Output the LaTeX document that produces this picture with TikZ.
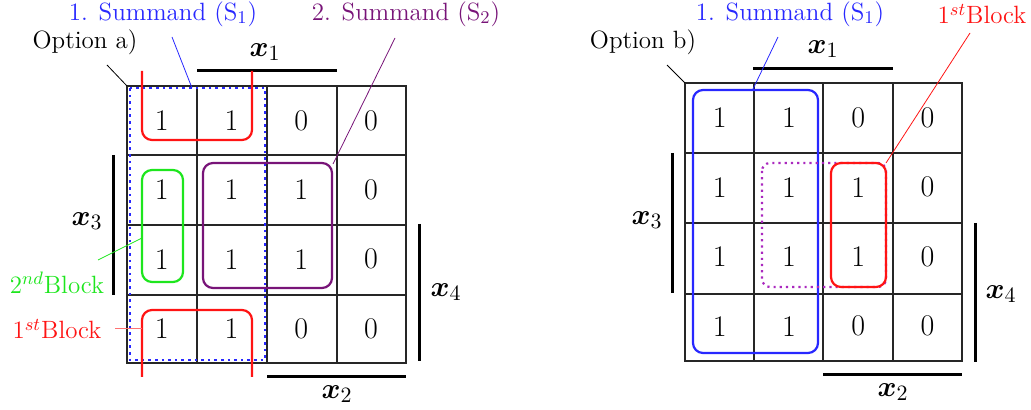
\documentclass[tikz,border=0pt]{standalone}
\usepackage{bm}
\definecolor{kblue}{RGB}{40,40,255}
\definecolor{kred}{RGB}{255,20,20}
\definecolor{kgreen}{RGB}{30,230,30}
\definecolor{kpurple}{RGB}{120,20,120}
\definecolor{kmag}{RGB}{170,40,190}
\begin{document}
\begin{tikzpicture}[x=0.5pt,y=-0.5pt,
 cell/.style={font=\fontsize{15}{18}\selectfont, inner sep=0pt},
 lbl/.style={font=\fontsize{12.5}{15}\selectfont, inner sep=1pt},
 var/.style={font=\fontsize{15}{18}\selectfont, inner sep=0pt},
 bar/.style={line width=1.5pt},
 gridline/.style={line width=0.7pt, draw=black!85},
 lead/.style={line width=0.4pt},
 grp/.style={line width=1.1pt, rounded corners=5pt}]
\useasboundingbox (0,0) rectangle (1031,410);

% ---------------- Option a) ----------------
\draw[gridline] (127,86) rectangle (406,363);
\foreach \x in {197,267,337} \draw[gridline] (\x,86) -- (\x,363);
\foreach \y in {155,225,295} \draw[gridline] (127,\y) -- (406,\y);
\foreach \c/\r/\v in {1/1/1,2/1/1,3/1/0,4/1/0,
                      1/2/1,2/2/1,3/2/1,4/2/0,
                      1/3/1,2/3/1,3/3/1,4/3/0,
                      1/4/1,2/4/1,3/4/0,4/4/0}
  \node[cell] (a\r\c) at ({127+69.75*(\c-0.5)},{86+69.25*(\r-0.5)}) {\v};

\draw[bar] (197,71) -- (337,71);
\node[var] (ax1) at (265,52) {$\bm{x}_1$};
\draw[bar] (113,155) -- (113,295);
\node[var] (ax3) at (87,221) {$\bm{x}_3$};
\draw[bar] (267,377) -- (406,377);
\node[var] (ax2) at (337,394) {$\bm{x}_2$};
\draw[bar] (419,224) -- (419,361);
\node[var] (ax4) at (446,292) {$\bm{x}_4$};

% groups
\draw[kblue, line width=1.3pt, dotted] (130,88) rectangle (265,360);
\draw[kred, grp] (142,71) -- (142,140) -- (252,140) -- (252,71);
\draw[kred, grp] (142,377) -- (142,310) -- (252,310) -- (252,377);
\draw[kgreen, grp] (142,170) rectangle (183,282);
\draw[kpurple, grp] (203,163) rectangle (332,288);

% labels
\node[lbl, text=kblue] (aS1) at (163,14) {1. Summand (S$_1$)};
\node[lbl, text=kpurple] (aS2) at (406,14) {2. Summand (S$_2$)};
\node[lbl] (aopt) at (85,42) {Option a)};
\node[lbl, text=kgreen] (a2nd) at (57,283) {2$^{nd}$Block};
\node[lbl, text=kred] (a1st) at (57,329) {1$^{st}$Block};

\coordinate (aS1s) at (172,37);  \coordinate (aS1e) at (192,88);
\coordinate (aS2s) at (395,38);  \coordinate (aS2e) at (333,164);
\coordinate (aopts) at (107,65); \coordinate (aopte) at (127,86);
\coordinate (a2nds) at (98,260); \coordinate (a2nde) at (142,238);
\coordinate (a1sts) at (115,328); \coordinate (a1ste) at (142,328);
\draw[lead, kblue] (aS1s) -- (aS1e);
\draw[lead, kpurple] (aS2s) -- (aS2e);
\draw[lead, black] (aopts) -- (aopte);
\draw[lead, kgreen] (a2nds) -- (a2nde);
\draw[lead, kred!60] (a1sts) -- (a1ste);

% ---------------- Option b) ----------------
\draw[gridline] (685,83) rectangle (962,361);
\foreach \x in {754,823,893} \draw[gridline] (\x,83) -- (\x,361);
\foreach \y in {153,223,294} \draw[gridline] (685,\y) -- (962,\y);
\foreach \c/\r/\v in {1/1/1,2/1/1,3/1/0,4/1/0,
                      1/2/1,2/2/1,3/2/1,4/2/0,
                      1/3/1,2/3/1,3/3/1,4/3/0,
                      1/4/1,2/4/1,3/4/0,4/4/0}
  \node[cell] (b\r\c) at ({685+69.25*(\c-0.5)},{83+69.5*(\r-0.5)}) {\v};

\draw[bar] (753,69) -- (893,69);
\node[var] (bx1) at (823,49) {$\bm{x}_1$};
\draw[bar] (672,153) -- (672,293);
\node[var] (bx3) at (647,220) {$\bm{x}_3$};
\draw[bar] (823,375) -- (962,375);
\node[var] (bx2) at (893,392) {$\bm{x}_2$};
\draw[bar] (975,223) -- (975,362);
\node[var] (bx4) at (1001,294) {$\bm{x}_4$};

% groups
\draw[kblue, grp] (693,90) rectangle (818,353);
\draw[kmag, line width=1.1pt, dotted, rounded corners=4pt] (762,163) rectangle (886,287);
\draw[kred, grp] (831,163) rectangle (886,287);

% labels
\node[lbl, text=kblue] (bS1) at (790,14) {1. Summand (S$_1$)};
\node[lbl, text=kred] (b1st) at (982,14) {1$^{st}$Block};
\node[lbl] (bopt) at (643,42) {Option b)};

\coordinate (bS1s) at (778,37);  \coordinate (bS1e) at (753,89);
\coordinate (b1sts) at (970,33); \coordinate (b1ste) at (886,163);
\coordinate (bopts) at (667,65); \coordinate (bopte) at (685,83);
\draw[lead, kblue] (bS1s) -- (bS1e);
\draw[lead, kred] (b1sts) -- (b1ste);
\draw[lead, black] (bopts) -- (bopte);
\end{tikzpicture}
\end{document}
